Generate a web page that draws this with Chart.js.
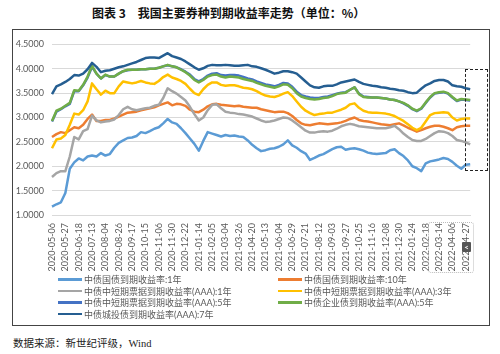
<!DOCTYPE html>
<html>
<head>
<meta charset="utf-8">
<script src="https://cdn.jsdelivr.net/npm/chart.js@4/dist/chart.umd.min.js"></script>
<style>
  html, body { margin: 0; padding: 0; background: #fff; }
  body { width: 500px; height: 354px; position: relative; overflow: hidden; font-family: Lato, "Noto Sans CJK SC", sans-serif; }
  #title { position: absolute; left: 92px; top: 4px; font: bold 12px "Noto Sans CJK SC", sans-serif; color: #111; white-space: nowrap; }
  #frame { position: absolute; left: 12px; top: 29px; width: 478px; height: 297px; box-sizing: border-box; border: 1.5px solid #444; }
  #wrap { position: absolute; left: 13px; top: 31px; width: 476px; height: 244px; }
  #source { position: absolute; left: 13px; top: 335px; font: 10.5px "Liberation Serif", "Noto Sans CJK SC", serif; color: #222; white-space: nowrap; }
  .lg { position: absolute; height: 11px; display: flex; align-items: center; white-space: nowrap; font: 9px Lato, "Noto Sans CJK SC", sans-serif; color: #595959; }
  .lg i { display: inline-block; width: 24px; height: 2.5px; margin-right: 2px; }
  #dash { position: absolute; left: 465px; top: 69px; width: 23px; height: 102px; box-sizing: border-box; border: 1.5px dashed #222; }
  #dots { position: absolute; left: 428px; top: 222px; width: 46px; height: 51px; box-sizing: border-box; border: 1px dotted #bbb; border-radius: 3px; }
  #mark { position: absolute; left: 462px; top: 242px; width: 9px; height: 10px; background: #555; color: #fff; font: bold 8px Lato, sans-serif; text-align: center; line-height: 10px; border-radius: 1px; }
</style>
</head>
<body>
<div id="title">图表 3　我国主要券种到期收益率走势（单位：%）</div>
<div id="frame"></div>
<div id="wrap"><canvas id="c" width="476" height="244"></canvas></div>
<div id="legend"></div>
<div id="dash"></div>
<div id="dots"></div>
<div id="mark">&lt;</div>
<div id="source">数据来源：新世纪评级，Wind</div>
<script>
// Tick dates (every 15 trading days); data sampled every 5 trading days
const tickDates = ['2020-05-06','2020-05-27','2020-06-18','2020-07-13','2020-08-04','2020-08-26','2020-09-17','2020-10-15','2020-11-06','2020-11-30','2020-12-22','2021-01-14','2021-02-05','2021-03-04','2021-03-26','2021-04-20','2021-05-13','2021-06-04','2021-06-29','2021-07-21','2021-08-12','2021-09-03','2021-09-27','2021-10-25','2021-11-16','2021-12-08','2021-12-30','2022-01-24','2022-02-18','2022-03-14','2022-04-06','2022-04-27'];

const seriesNames = ['中债国债到期收益率:1年','中债国债到期收益率:10年','中债中短期票据到期收益率(AAA):1年','中债中短期票据到期收益率(AAA):3年','中债中短期票据到期收益率(AAA):5年','中债企业债到期收益率(AAA):5年','中债城投债到期收益率(AAA):7年'];

const gov1y = [1.17,1.22,1.26,1.45,1.95,2.08,2.16,2.12,2.2,2.22,2.2,2.27,2.22,2.25,2.38,2.48,2.53,2.58,2.59,2.62,2.7,2.68,2.72,2.77,2.8,2.88,2.97,2.9,2.87,2.78,2.68,2.57,2.46,2.32,2.52,2.7,2.67,2.64,2.61,2.64,2.62,2.63,2.61,2.6,2.53,2.44,2.37,2.31,2.33,2.36,2.37,2.4,2.45,2.53,2.43,2.38,2.31,2.26,2.13,2.17,2.22,2.25,2.3,2.35,2.39,2.4,2.34,2.36,2.37,2.35,2.32,2.28,2.26,2.25,2.26,2.27,2.33,2.35,2.27,2.21,2.12,2.0,1.96,1.9,2.06,2.1,2.12,2.14,2.17,2.15,2.09,2.01,1.95,2.03,2.04];

const gov10y = [2.6,2.66,2.7,2.68,2.74,2.8,2.78,2.85,2.97,3.06,2.93,2.93,2.95,2.95,2.98,3.02,3.06,3.1,3.11,3.12,3.15,3.17,3.19,3.21,3.25,3.28,3.31,3.25,3.28,3.27,3.24,3.16,3.12,3.11,3.16,3.23,3.27,3.28,3.26,3.25,3.24,3.23,3.24,3.22,3.21,3.2,3.2,3.17,3.15,3.13,3.11,3.12,3.12,3.09,3.03,2.95,2.88,2.85,2.84,2.86,2.88,2.87,2.86,2.87,2.88,2.9,2.93,2.97,3.0,2.95,2.93,2.92,2.9,2.88,2.86,2.85,2.84,2.86,2.88,2.84,2.79,2.75,2.71,2.74,2.78,2.81,2.83,2.83,2.81,2.78,2.74,2.8,2.82,2.83,2.83];

const cp1y = [1.78,1.86,1.9,1.9,2.2,2.6,2.55,2.72,2.76,3.04,2.94,2.9,2.92,2.93,2.96,3.05,3.17,3.22,3.17,3.15,3.17,3.19,3.2,3.24,3.26,3.4,3.6,3.54,3.49,3.42,3.35,3.22,3.07,2.94,3.0,3.15,3.26,3.27,3.19,3.12,3.1,3.09,3.07,3.06,3.04,3.02,2.98,2.94,2.91,2.92,2.94,2.97,3.0,2.99,2.94,2.87,2.8,2.73,2.69,2.69,2.71,2.72,2.71,2.73,2.77,2.82,2.85,2.87,2.85,2.82,2.81,2.8,2.79,2.78,2.78,2.78,2.8,2.83,2.76,2.67,2.6,2.54,2.52,2.52,2.56,2.62,2.68,2.72,2.71,2.68,2.62,2.54,2.52,2.49,2.45];

const cp3y = [2.37,2.55,2.57,2.64,2.85,3.08,3.06,3.15,3.33,3.7,3.58,3.47,3.55,3.5,3.5,3.64,3.74,3.72,3.7,3.72,3.75,3.72,3.7,3.69,3.75,3.83,3.88,3.82,3.79,3.75,3.69,3.59,3.5,3.46,3.58,3.67,3.72,3.72,3.67,3.65,3.66,3.66,3.64,3.61,3.6,3.58,3.54,3.49,3.45,3.43,3.42,3.45,3.49,3.52,3.44,3.33,3.22,3.14,3.09,3.05,3.07,3.08,3.1,3.1,3.13,3.16,3.2,3.27,3.29,3.2,3.14,3.11,3.1,3.1,3.09,3.08,3.06,3.03,2.98,2.93,2.86,2.79,2.74,2.79,2.92,3.05,3.09,3.1,3.11,3.1,3.0,2.94,2.97,2.98,2.98];

const cp5y = [2.92,3.12,3.17,3.23,3.28,3.54,3.54,3.66,3.82,4.04,3.9,3.8,3.87,3.84,3.84,3.9,3.95,3.97,3.98,3.98,3.99,3.99,4.0,4.0,4.02,4.05,4.07,4.05,4.03,3.99,3.94,3.88,3.79,3.74,3.79,3.86,3.9,3.91,3.87,3.86,3.87,3.87,3.86,3.83,3.8,3.78,3.74,3.71,3.68,3.66,3.64,3.67,3.71,3.7,3.63,3.53,3.46,3.43,3.41,3.4,3.4,3.42,3.43,3.46,3.49,3.51,3.52,3.57,3.62,3.49,3.43,3.42,3.41,3.41,3.4,3.39,3.37,3.36,3.33,3.29,3.24,3.17,3.13,3.18,3.3,3.41,3.49,3.51,3.52,3.49,3.41,3.34,3.37,3.36,3.35];

const corp5y = [2.93,3.14,3.18,3.24,3.3,3.56,3.55,3.67,3.84,4.06,3.9,3.8,3.88,3.84,3.84,3.9,3.95,3.98,3.98,3.98,3.99,3.99,4.0,4.0,4.02,4.05,4.08,4.05,4.03,3.98,3.93,3.86,3.77,3.72,3.77,3.84,3.87,3.88,3.84,3.82,3.84,3.83,3.82,3.79,3.77,3.75,3.71,3.68,3.65,3.63,3.61,3.64,3.68,3.67,3.6,3.5,3.43,3.4,3.38,3.37,3.38,3.4,3.41,3.44,3.48,3.5,3.51,3.57,3.62,3.48,3.42,3.41,3.41,3.41,3.4,3.39,3.37,3.36,3.33,3.3,3.25,3.18,3.14,3.19,3.31,3.42,3.5,3.52,3.53,3.5,3.42,3.35,3.38,3.37,3.36];

const ct7y = [3.48,3.64,3.68,3.73,3.79,3.87,3.86,3.9,3.99,4.12,4.04,3.93,3.96,3.97,4.0,4.03,4.05,4.08,4.11,4.14,4.18,4.22,4.23,4.23,4.22,4.27,4.32,4.26,4.23,4.2,4.15,4.09,4.03,3.98,4.01,4.06,4.08,4.07,4.07,4.08,4.07,4.06,4.06,4.07,4.08,4.05,4.04,4.01,3.98,3.94,3.9,3.92,3.95,3.95,3.93,3.9,3.82,3.74,3.66,3.62,3.61,3.64,3.65,3.65,3.68,3.72,3.74,3.76,3.78,3.73,3.69,3.67,3.65,3.64,3.62,3.61,3.59,3.58,3.56,3.55,3.52,3.5,3.51,3.59,3.66,3.7,3.75,3.77,3.77,3.74,3.66,3.64,3.63,3.6,3.58];

const yTicks = [1.0, 1.5, 2.0, 2.5, 3.0, 3.5, 4.0, 4.5];

const seriesData = [gov1y, gov10y, cp1y, cp3y, cp5y, corp5y, ct7y];
const colors = ['#5B9BD5','#ED7D31','#A5A5A5','#FFC000','#4472C4','#70AD47','#255E91'];

const labels = gov1y.map((_, k) => (k % 3 === 0 && tickDates[k / 3]) ? tickDates[k / 3] : '');

const datasets = seriesData.map((d, i) => ({
  label: seriesNames[i],
  data: d,
  borderColor: colors[i],
  backgroundColor: colors[i],
  borderWidth: 2.5,
  pointRadius: 0,
  tension: 0,
  fill: false,
  borderJoinStyle: 'round',
  order: seriesData.length - i
}));

const FONT = 'Lato, "Noto Sans CJK SC", sans-serif';

new Chart(document.getElementById('c'), {
  type: 'line',
  data: { labels, datasets },
  options: {
    responsive: false,
    animation: false,
    layout: { padding: { top: 10, right: 7, left: 0, bottom: 0 } },
    plugins: { legend: { display: false }, tooltip: { enabled: false } },
    scales: {
      x: {
        type: 'category',
        offset: false,
        grid: { display: false, drawTicks: false },
        border: { display: true, color: '#D9D9D9' },
        ticks: { autoSkip: false, minRotation: 90, maxRotation: 90, padding: 8, color: '#595959', font: { family: FONT, size: 9 } },
        afterFit: s => { s.height = 60; }
      },
      y: {
        min: yTicks[0], max: yTicks[yTicks.length - 1],
        afterBuildTicks: s => { s.ticks = yTicks.map(v => ({ value: v })); },
        grid: { color: '#D9D9D9', lineWidth: 1, drawTicks: false },
        border: { display: false },
        ticks: { padding: 8, color: '#595959', font: { family: FONT, size: 9 }, callback: v => Number(v).toFixed(4) },
        afterFit: s => { s.width = 39; }
      }
    }
  }
});

// HTML legend (two columns as in the original)
const legendPos = [[58,274],[278,274],[58,285.5],[278,285.5],[58,297],[278,297],[58,308.5]];
const lg = document.getElementById('legend');
seriesNames.forEach((n, i) => {
  const d = document.createElement('div');
  d.className = 'lg';
  d.style.left = legendPos[i][0] + 'px';
  d.style.top = legendPos[i][1] + 'px';
  d.innerHTML = '<i style="background:' + colors[i] + '"></i>' + n;
  lg.appendChild(d);
});
</script>
</body>
</html>
